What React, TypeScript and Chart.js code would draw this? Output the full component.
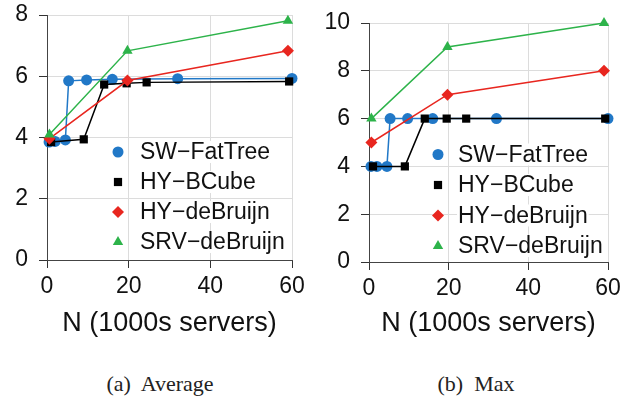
import React, { useEffect, useRef } from 'react';
import { Chart, registerables } from 'chart.js';
import { drawPoint } from 'chart.js/helpers';

Chart.register(...registerables);

// ---- data ----
const seriesLabels = ['SW−FatTree', 'HY−BCube', 'HY−deBruijn', 'SRV−deBruijn'];
const fatTreeN = [0.5, 2, 4.5, 5.3, 9.7, 16, 32, 60];
const fatTreeAvg = [3.85, 3.87, 3.92, 5.85, 5.88, 5.9, 5.92, 5.93];
const fatTreeMax = [4, 4, 4, 6, 6, 6, 6, 6];
const bcubeN = [1, 9, 14, 19.5, 24.4, 59.3];
const bcubeAvg = [3.85, 3.94, 5.73, 5.77, 5.8, 5.83];
const bcubeMax = [4, 4, 6, 6, 6, 6];
const debruijnN = [0.6, 19.7, 59];
const hyDebruijnAvg = [3.96, 5.86, 6.83];
const hyDebruijnMax = [5, 7, 8];
const srvDebruijnAvg = [4.1, 6.83, 7.81];
const srvDebruijnMax = [6, 9, 10];
const xTicks = [0, 20, 40, 60];
const avgTicks = [0, 2, 4, 6, 8];
const maxTicks = [0, 2, 4, 6, 8, 10];
const xTitle = 'N (1000s servers)';
const captions = ['(a)  Average', '(b)  Max'];

const SANS = '"Liberation Sans", Arial, Helvetica, sans-serif';
const SERIF = '"Liberation Serif", "Times New Roman", serif';

const styles = [
  { color: '#2178c7', pointStyle: 'circle', radius: 5.5 },
  { color: '#000000', pointStyle: 'rect', radius: 5.8 },
  { color: '#e8261f', pointStyle: 'rectRot', radius: 6 },
  { color: '#2db34a', pointStyle: 'triangle', radius: 6 },
];

const zip = (xs: number[], ys: number[]) => xs.map((x, i) => ({ x, y: ys[i] }));

const insideLegend = {
  id: 'insideLegend',
  afterDraw(chart: any, _args: any, opts: any) {
    if (!opts || opts.markerX == null) return;
    const { ctx } = chart;
    ctx.save();
    ctx.font = `23px ${SANS}`;
    ctx.textBaseline = 'middle';
    ctx.textAlign = 'left';
    chart.data.datasets.forEach((ds: any, i: number) => {
      const y = opts.rowY + i * opts.rowGap;
      const w = ctx.measureText(ds.label).width;
      ctx.fillStyle = '#ffffff';
      ctx.fillRect(opts.textX - 1, y - 11, w + 2, 22);
      ctx.fillStyle = '#111111';
      ctx.fillText(ds.label, opts.textX, y + 1);
      ctx.fillStyle = ds.pointBackgroundColor;
      ctx.strokeStyle = ds.pointBackgroundColor;
      drawPoint(ctx, { pointStyle: ds.pointStyle, radius: ds.pointRadius, borderWidth: 0, rotation: 0 } as any, opts.markerX, y);
    });
    ctx.restore();
  },
};

function buildDatasets(values: number[][], xs: number[][]) {
  return values.map((v, i) => ({
    label: seriesLabels[i],
    data: zip(xs[i], v),
    borderColor: styles[i].color,
    backgroundColor: styles[i].color,
    pointBackgroundColor: styles[i].color,
    pointBorderColor: styles[i].color,
    pointBorderWidth: 0,
    pointStyle: styles[i].pointStyle,
    pointRadius: styles[i].radius,
    borderWidth: 1.5,
    tension: 0,
    clip: false,
    order: 4 - i,
  }));
}

function makeConfig(kind: 'avg' | 'max') {
  const isAvg = kind === 'avg';
  const yTicks = isAvg ? avgTicks : maxTicks;
  const datasets = buildDatasets(
    isAvg
      ? [fatTreeAvg, bcubeAvg, hyDebruijnAvg, srvDebruijnAvg]
      : [fatTreeMax, bcubeMax, hyDebruijnMax, srvDebruijnMax],
    [fatTreeN, bcubeN, debruijnN, debruijnN]
  );
  const yWidth = isAvg ? 47 : 54;
  const top = isAvg ? 15 : 23;
  const bottomAxis = isAvg ? 260 : 262;
  const canvasH = 360;
  return {
    type: 'line',
    data: { datasets },
    plugins: [insideLegend],
    options: {
      animation: false,
      responsive: false,
      maintainAspectRatio: false,
      layout: { padding: { left: 0, top, right: 23, bottom: 0 } },
      plugins: {
        legend: { display: false },
        tooltip: { enabled: false },
        insideLegend: isAvg
          ? { markerX: 118, textX: 140, rowY: 152, rowGap: 30 }
          : { markerX: 123, textX: 143, rowY: 154.5, rowGap: 30.5 },
      },
      scales: {
        x: {
          type: 'linear',
          min: 0,
          max: 60,
          afterBuildTicks: (s: any) => {
            s.ticks = xTicks.map((v) => ({ value: v }));
          },
          afterFit: (s: any) => {
            s.height = canvasH - bottomAxis;
            s.paddingLeft = 0;
            s.paddingRight = 0;
          },
          grid: { color: '#dcdcdc', tickColor: '#333333', tickLength: 8, lineWidth: 1 },
          border: { color: '#444444', width: 1 },
          ticks: {
            font: { family: SANS, size: 23 },
            color: '#111111',
            padding: 5,
            maxRotation: 0,
            autoSkip: false,
          },
          title: {
            display: true,
            text: xTitle,
            color: '#111111',
            font: { family: SANS, size: 27 },
            padding: { top: 0, bottom: 20 },
          },
        },
        y: {
          type: 'linear',
          min: 0,
          max: isAvg ? 8 : 10,
          afterBuildTicks: (s: any) => {
            s.ticks = yTicks.map((v) => ({ value: v }));
          },
          afterFit: (s: any) => {
            s.width = yWidth;
            s.paddingTop = 0;
            s.paddingBottom = 0;
          },
          grid: { color: '#dcdcdc', tickColor: '#333333', tickLength: 8, lineWidth: 1 },
          border: { color: '#444444', width: 1 },
          ticks: {
            font: { family: SANS, size: 23 },
            color: '#111111',
            padding: 11,
          },
        },
      },
    },
  } as any;
}

function Panel({ kind, left, width }: { kind: 'avg' | 'max'; left: number; width: number }) {
  const ref = useRef<HTMLCanvasElement>(null);
  useEffect(() => {
    if (!ref.current) return;
    const chart = new Chart(ref.current, makeConfig(kind));
    return () => chart.destroy();
  }, [kind]);
  return (
    <canvas
      ref={ref}
      width={width}
      height={360}
      style={{ position: 'absolute', left, top: 0, width, height: 360, display: 'block' }}
    />
  );
}

export default function App() {
  return (
    <div style={{ position: 'absolute', left: 0, top: 0, width: 631, height: 401, background: '#fff', overflow: 'hidden' }}>
      <Panel kind="avg" left={0} width={315} />
      <Panel kind="max" left={315} width={316} />
      {captions.map((c, i) => (
        <div
          key={c}
          style={{
            position: 'absolute',
            left: (i === 0 ? 160 : 476) - 100,
            top: 371,
            width: 200,
            textAlign: 'center',
            font: `22px ${SERIF}`,
            lineHeight: '26px',
            whiteSpace: 'pre',
            color: '#222',
          }}
        >
          {c}
        </div>
      ))}
    </div>
  );
}
